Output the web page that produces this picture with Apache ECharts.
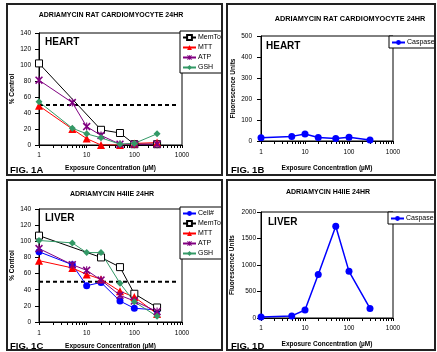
<!DOCTYPE html>
<html><head><meta charset="utf-8">
<script src="https://cdn.jsdelivr.net/npm/echarts@6/dist/echarts.min.js"></script>
<style>html,body{margin:0;padding:0;background:#fff}#c{width:437px;height:352px}</style>
</head><body><div id="c"></div>
<script>
// Exposure concentrations (µM)
const conc = [1, 5, 10, 20, 50, 100, 300];
const xTickLabels = [1, 10, 100, 1000];
const xMinorTicks = [1,2,3,4,5,6,7,8,9,10,20,30,40,50,60,70,80,90,100,200,300,400,500,600,700,800,900,1000];
// FIG 1A – heart, % control
const memToxA = [102, null, null, 19, 15, 1, 1];
const mttA    = [49, 20, 8, 0, 0, 2, 3];
const atpA    = [81, 53, 23, 12, 1, 1, 1];
const gshA    = [54, 21, 14, 9, 1, 2, 14];
// FIG 1B – heart caspase
const caspaseB = [15, 22, 33, 17, 12, 18, 5];
// FIG 1C – liver, % control
const cellC   = [87, 71, 45, 49, 26, 17, 15];
const memToxC = [107, null, null, 80, 68, 35, 18];
const mttC    = [76, 67, 59, 53, 38, 31, 10];
const atpC    = [91, 71, 64, 52, 33, 26, 13];
const gshC    = [101, 98, 86, 86, 48, 25, 7];
// FIG 1D – liver caspase
const caspaseD = [20, 40, 150, 820, 1730, 880, 180];
// 50% reference line
const refX = [1, 800];
const refY = [50, 50];

const FONT = 'Liberation Sans, Arial, sans-serif';
const pair = (xs, ys) => xs.map((x, i) => [x, ys[i]]);
const ATP_PATH = 'path://M0,1.4L1.4,0L5,3.6L8.6,0L10,1.4L6.4,5L10,8.6L8.6,10L5,6.4L1.4,10L0,8.6L3.6,5Z M4.3,0L5.7,0L5.7,10L4.3,10Z';

function xAxis(gi, margin, gap) {
  return {
    type: 'log', logBase: 10, min: 1, max: 1000, gridIndex: gi,
    name: 'Exposure Concentration (µM)', nameLocation: 'middle', nameGap: gap,
    nameTextStyle: {fontFamily: FONT, fontSize: 6.5, fontWeight: 'bold', color: '#000'},
    axisLine: {lineStyle: {color: '#000', width: 1}},
    axisTick: {show: true, length: 3, customValues: xMinorTicks, lineStyle: {color: '#000'}},
    axisLabel: {customValues: xTickLabels, formatter: v => String(Math.round(v)), fontFamily: FONT, fontSize: 6.5, color: '#000', margin: margin},
    splitLine: {show: false}, minorTick: {show: false}
  };
}
function yAxis(gi, max, interval, name, gap, margin) {
  return {
    type: 'value', gridIndex: gi, min: 0, max: max, interval: interval,
    name: name, nameLocation: 'middle', nameGap: gap,
    nameTextStyle: {fontFamily: FONT, fontSize: 6.5, fontWeight: 'bold', color: '#000'},
    axisLine: {show: true, lineStyle: {color: '#000', width: 1}},
    axisTick: {show: true, length: 4, lineStyle: {color: '#000'}},
    axisLabel: {formatter: v => String(v), fontFamily: FONT, fontSize: 6.5, color: '#000', margin: margin},
    splitLine: {show: false}
  };
}
function line(name, gi, ys, color, symbol, size, extra) {
  return Object.assign({
    type: 'line', name: name, xAxisIndex: gi, yAxisIndex: gi,
    data: pair(conc, ys), connectNulls: true, symbol: symbol, symbolSize: size,
    lineStyle: {color: color, width: 1}, itemStyle: {color: color},
    animation: false, z: 3
  }, extra || {});
}
const memStyle = {itemStyle: {color: '#fff', borderColor: '#000', borderWidth: 1}};
const atpStyle = {itemStyle: {color: '#800080', borderWidth: 0}};
function ref(gi) {
  return {type: 'line', name: 'ref', xAxisIndex: gi, yAxisIndex: gi, data: pair(refX, refY),
    symbol: 'none', lineStyle: {color: '#000', width: 2, type: [4, 3]}, animation: false, z: 2, silent: true};
}
function legend(names, left, top) {
  return {data: names, orient: 'vertical', left: left, top: top, itemWidth: 13, itemHeight: 6,
    itemGap: 3, padding: [3, 3, 2, 2], borderColor: '#000', borderWidth: 1, backgroundColor: '#fff',
    textStyle: {fontFamily: FONT, fontSize: 7, color: '#000', padding: [0, 0, 0, -3]}, selectedMode: false, z: 5};
}
function txt(x, y, t, size, weight) {
  return {type: 'text', x: x, y: y, style: {text: t, fontFamily: FONT, fontSize: size, fontWeight: weight || 'bold', fill: '#000', textVerticalAlign: 'middle'}, z: 50};
}
function frame(x, y, w, h) {
  return {type: 'rect', shape: {x: x, y: y, width: w, height: h}, style: {fill: 'none', stroke: '#222', lineWidth: 2}, z: 100};
}
const titleStyle = {fontFamily: FONT, fontWeight: 'bold', color: '#000'};

const option = {
  backgroundColor: '#fff',
  animation: false,
  title: [
    {text: 'ADRIAMYCIN RAT CARDIOMYOCYTE 24HR', left: 111, top: 12, textAlign: 'center', padding: 0, textStyle: Object.assign({fontSize: 7}, titleStyle)},
    {text: 'ADRIAMYCIN RAT CARDIOMYOCYTE 24HR', left: 350, top: 15, textAlign: 'center', padding: 0, textStyle: Object.assign({fontSize: 7.3}, titleStyle)},
    {text: 'ADRIAMYCIN H4IIE 24HR', left: 112, top: 191, textAlign: 'center', padding: 0, textStyle: Object.assign({fontSize: 7}, titleStyle)},
    {text: 'ADRIAMYCIN H4IIE 24HR', left: 328, top: 189, textAlign: 'center', padding: 0, textStyle: Object.assign({fontSize: 7}, titleStyle)}
  ],
  grid: [
    {left: 39, top: 33, width: 143, height: 112, show: true, borderColor: '#000', borderWidth: 1, backgroundColor: '#fff'},
    {left: 261, top: 36, width: 132, height: 105, show: true, borderColor: '#000', borderWidth: 1, backgroundColor: '#fff'},
    {left: 39, top: 209, width: 143, height: 113, show: true, borderColor: '#000', borderWidth: 1, backgroundColor: '#fff'},
    {left: 261, top: 212, width: 132, height: 106, show: true, borderColor: '#000', borderWidth: 1, backgroundColor: '#fff'}
  ],
  xAxis: [xAxis(0, 7, 20), xAxis(1, 8, 24), xAxis(2, 8, 21), xAxis(3, 7, 23)],
  yAxis: [
    yAxis(0, 140, 20, '% Control', 23, 8),
    yAxis(1, 500, 100, 'Fluorescence Units', 24, 9),
    yAxis(2, 140, 20, '% Control', 23, 8),
    yAxis(3, 2000, 500, 'Fluorescence Units', 25, 5)
  ],
  legend: [
    legend(['MemTox', 'MTT', 'ATP', 'GSH'], 180, 31),
    legend([{name: 'Caspase'}], 389, 36),
    legend(['Cell#', 'MemTox', 'MTT', 'ATP', 'GSH'], 180, 207),
    legend([{name: 'Caspase'}], 388, 212)
  ],
  series: [
    ref(0),
    line('MemTox', 0, memToxA, '#000', 'rect', 7, memStyle),
    line('MTT', 0, mttA, '#ff0000', 'triangle', 8),
    line('ATP', 0, atpA, '#800080', ATP_PATH, 8, atpStyle),
    line('GSH', 0, gshA, '#339966', 'diamond', 7),
    line('Caspase', 1, caspaseB, '#0000ff', 'circle', 7, {lineStyle: {color: '#0000ff', width: 1.5}}),
    ref(2),
    line('Cell#', 2, cellC, '#0000ff', 'circle', 7),
    line('MemTox', 2, memToxC, '#000', 'rect', 7, memStyle),
    line('MTT', 2, mttC, '#ff0000', 'triangle', 8),
    line('ATP', 2, atpC, '#800080', ATP_PATH, 8, atpStyle),
    line('GSH', 2, gshC, '#339966', 'diamond', 7),
    line('Caspase', 3, caspaseD, '#0000ff', 'circle', 7, {lineStyle: {color: '#0000ff', width: 1.5}})
  ],
  graphic: [
    txt(45, 42, 'HEART', 10), txt(266, 46, 'HEART', 10),
    txt(45, 218, 'LIVER', 10), txt(268, 222, 'LIVER', 10),
    txt(10, 170, 'FIG. 1A', 9.5), txt(231, 170, 'FIG. 1B', 9.5),
    txt(10, 346, 'FIG. 1C', 9.5), txt(231, 346, 'FIG. 1D', 9.5),
    {type: 'rect', shape: {x: 222, y: 0, width: 5, height: 352}, style: {fill: '#fff'}, z: 90},
    {type: 'rect', shape: {x: 435, y: 0, width: 2, height: 352}, style: {fill: '#fff'}, z: 90},
    frame(7, 4, 215, 171), frame(227, 4, 208, 171),
    frame(7, 180, 215, 170), frame(227, 180, 208, 170)
  ]
};
const chart = echarts.init(document.getElementById('c'), null, {renderer: 'canvas'});
chart.setOption(option);
</script></body></html>
